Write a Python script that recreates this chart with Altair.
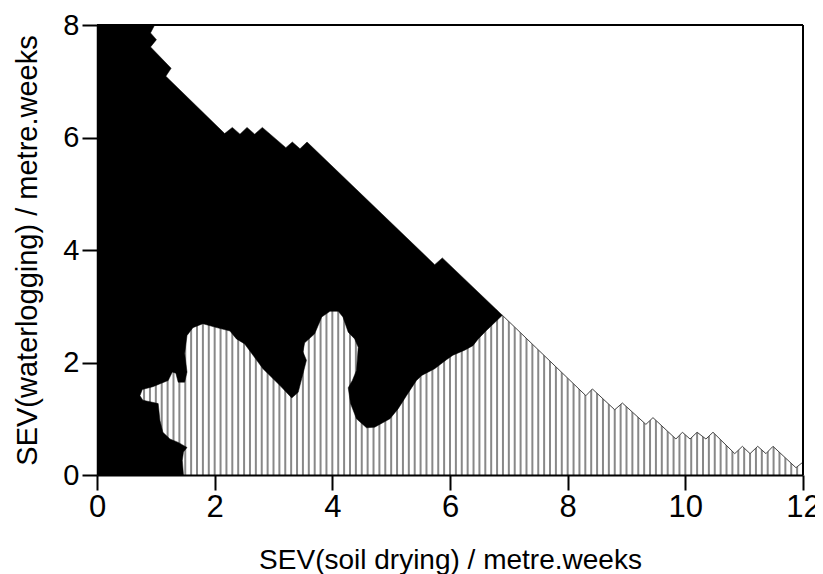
import altair as alt
import pandas as pd
import numpy as np

# Curvy boundary between the black region and the hatched region (bottom -> junction)
bnd_x = [1.47, 1.45, 1.47, 1.53, 1.38, 1.24, 1.12, 1.07, 1.04, 0.78, 0.73, 0.77, 0.95, 1.21,
         1.28, 1.34, 1.38, 1.49, 1.53, 1.49, 1.53, 1.63, 1.80, 2.00, 2.26, 2.37, 2.51, 2.82,
         3.11, 3.31, 3.42, 3.56, 3.50, 3.53, 3.70, 3.82, 3.96, 4.10, 4.18, 4.27, 4.38, 4.44,
         4.41, 4.34, 4.27, 4.31, 4.41, 4.58, 4.72, 4.98, 5.12, 5.26, 5.43, 5.52, 5.74, 5.94,
         6.05, 6.25, 6.39, 6.48, 6.62, 6.89]
bnd_y = [0.00, 0.26, 0.41, 0.49, 0.58, 0.64, 0.76, 0.97, 1.27, 1.33, 1.41, 1.52, 1.57, 1.68,
         1.83, 1.81, 1.65, 1.65, 1.83, 2.16, 2.48, 2.62, 2.69, 2.63, 2.56, 2.42, 2.33, 1.89,
         1.59, 1.37, 1.47, 2.04, 2.19, 2.35, 2.51, 2.81, 2.91, 2.91, 2.81, 2.54, 2.42, 2.27,
         1.86, 1.68, 1.55, 1.27, 1.00, 0.84, 0.85, 1.00, 1.18, 1.41, 1.68, 1.77, 1.89, 2.05,
         2.13, 2.22, 2.30, 2.42, 2.57, 2.84]

# Upper edge of the black region (junction -> top of plot)
top_x = [5.87, 5.74, 3.57, 3.45, 3.32, 3.21, 2.81, 2.68, 2.55, 2.43, 2.30, 2.17, 1.17, 1.26,
         0.91, 1.01, 0.91, 0.98]
top_y = [3.86, 3.74, 5.92, 5.80, 5.92, 5.82, 6.18, 6.06, 6.18, 6.06, 6.18, 6.07, 7.09, 7.23,
         7.61, 7.74, 7.86, 8.00]

# Upper edge of the hatched region (junction -> right edge)
env_x = [6.89, 8.31, 8.42, 8.80, 8.93, 9.33, 9.45, 9.84, 9.95, 10.08, 10.20, 10.35, 10.47,
         10.84, 10.97, 11.10, 11.23, 11.37, 11.49, 11.88, 12.00]
env_y = [2.84, 1.41, 1.53, 1.16, 1.28, 0.90, 1.02, 0.64, 0.76, 0.64, 0.76, 0.64, 0.76,
         0.38, 0.51, 0.38, 0.51, 0.38, 0.51, 0.13, 0.23]

X_TICKS = [0, 2, 4, 6, 8, 10, 12]
Y_TICKS = [0, 2, 4, 6, 8]
X_MAX = 12
Y_MAX = 8

# black polygon
poly_x = [0.0] + bnd_x + top_x + [0.0, 0.0]
poly_y = [0.0] + bnd_y + top_y + [8.0, 0.0]
black = pd.DataFrame({"x": poly_x, "y": poly_y, "i": range(len(poly_x))})

# hatch texture (vertical stripes every 0.1 unit)
hatch = pd.DataFrame({"x": np.round(np.arange(0.1, 12.0, 0.1), 2)})
hatch["y"] = 0.0
hatch["y2"] = 3.0

# white mask above the hatched envelope (only as high as the stripes reach)
mask = pd.DataFrame({"x": [top_x[1], top_x[0]] + env_x, "y": [top_y[1], top_y[0]] + env_y})
mask["y2"] = 3.05

env = pd.DataFrame({"x": env_x, "y": env_y})

FONT = "Liberation Sans"
xs = alt.Scale(domain=[0, 12], nice=False, zero=False)
ys = alt.Scale(domain=[0, 8], nice=False, zero=False)

x_axis = alt.Axis(values=X_TICKS, format="d", title="SEV(soil drying) / metre.weeks", grid=False,
                  tickSize=15, tickWidth=2, tickColor="black", domainColor="black",
                  domainWidth=2, labelFont=FONT, labelFontSize=31, labelColor="black",
                  labelPadding=2, labelFlush=False, labelOverlap=False,
                  titleFont=FONT, titleFontSize=28, titleFontWeight="normal",
                  titleColor="black", titlePadding=24, zindex=2)
y_axis = alt.Axis(values=Y_TICKS, format="d", title="SEV(waterlogging) / metre.weeks", grid=False,
                  tickSize=15, tickWidth=2, tickColor="black", domainColor="black",
                  domainWidth=1, labelFont=FONT, labelFontSize=29, labelColor="black",
                  labelPadding=3, labelFlush=False, labelOverlap=False,
                  titleFont=FONT, titleFontSize=29, titleFontWeight="normal",
                  titleColor="black", titlePadding=20, zindex=2)

rules = alt.Chart(hatch).mark_rule(color="#888888", strokeWidth=2).encode(
    x=alt.X("x:Q", scale=xs, axis=x_axis),
    y=alt.Y("y:Q", scale=ys, axis=y_axis),
    y2="y2:Q",
)

white = alt.Chart(mask).mark_area(color="white", opacity=1, interpolate="linear").encode(
    x=alt.X("x:Q", scale=xs), y=alt.Y("y:Q", scale=ys), y2="y2:Q"
)

env_line = alt.Chart(env).mark_line(color="#444444", strokeWidth=1).encode(
    x=alt.X("x:Q", scale=xs), y=alt.Y("y:Q", scale=ys)
)

poly = alt.Chart(black).mark_line(fill="black", stroke="black", strokeWidth=0.5,
                                  interpolate="linear").encode(
    x=alt.X("x:Q", scale=xs), y=alt.Y("y:Q", scale=ys), order="i:Q"
)

frame_top = alt.Chart(pd.DataFrame({"v": [Y_MAX]})).mark_rule(color="black", strokeWidth=2).encode(
    y=alt.Y("v:Q", scale=ys)
)
frame_right = alt.Chart(pd.DataFrame({"v": [X_MAX]})).mark_rule(color="black", strokeWidth=2).encode(
    x=alt.X("v:Q", scale=xs)
)

chart = alt.layer(rules, white, env_line, poly, frame_top, frame_right).properties(
    width=706, height=450,
    autosize=alt.AutoSizeParams(type="none"),
    padding={"left": 89, "top": 17, "right": 12, "bottom": 99},
).configure_view(stroke="black", strokeWidth=2).configure(background="white")

chart.save("out.html", embed_options={"renderer": "svg", "actions": False})
